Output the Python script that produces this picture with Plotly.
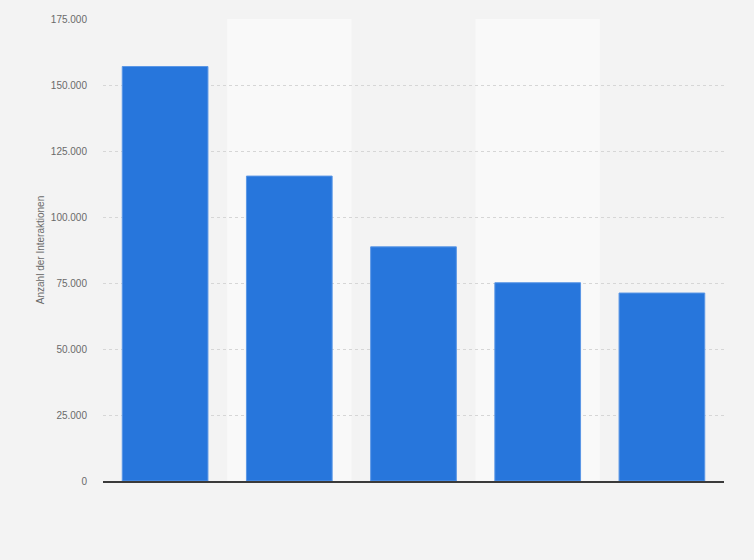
import plotly.graph_objects as go

categories = ["1", "2", "3", "4", "5"]
values = [157000, 115500, 88700, 75100, 71200]
y_ticks = [0, 25000, 50000, 75000, 100000, 125000, 150000, 175000]

bar = go.Bar(
    x=categories,
    y=values,
    width=0.69,
    marker={"color": "#2776dc", "line": {"color": "#5b97e6", "width": 1}},
)
fig = go.Figure(data=bar)

# lighter bands behind every second category
for i in range(1, len(categories), 2):
    fig.add_vrect(x0=i - 0.5, x1=i + 0.5, fillcolor="#f9f9f9",
                  line_width=0, layer="below")

fig.update_xaxes(showticklabels=False, showgrid=False, showline=True,
                 linecolor="#3a3a3a", linewidth=1.5, range=[-0.5, 4.5],
                 zeroline=False)
fig.update_yaxes(range=[0, 175000], tickvals=y_ticks, tickformat=",",
                 showgrid=True, gridcolor="#d6d6d6", griddash="dot", gridwidth=1,
                 zeroline=False, ticks="outside", ticklen=13,
                 tickcolor="rgba(0,0,0,0)",
                 tickfont={"size": 10, "color": "#6a6a6a"},
                 title={"text": "Anzahl der Interaktionen", "standoff": 4,
                        "font": {"size": 10, "color": "#6a6a6a"}})
fig.update_layout(width=754, height=560, separators=",.",
                  paper_bgcolor="#f3f3f3", plot_bgcolor="#f3f3f3",
                  font={"family": "Arial, Liberation Sans, sans-serif"},
                  margin={"l": 103, "r": 30, "t": 19, "b": 79},
                  showlegend=False)

fig.write_html("out.html", config={"displayModeBar": False},
               post_script="document.body.style.margin='0';")
